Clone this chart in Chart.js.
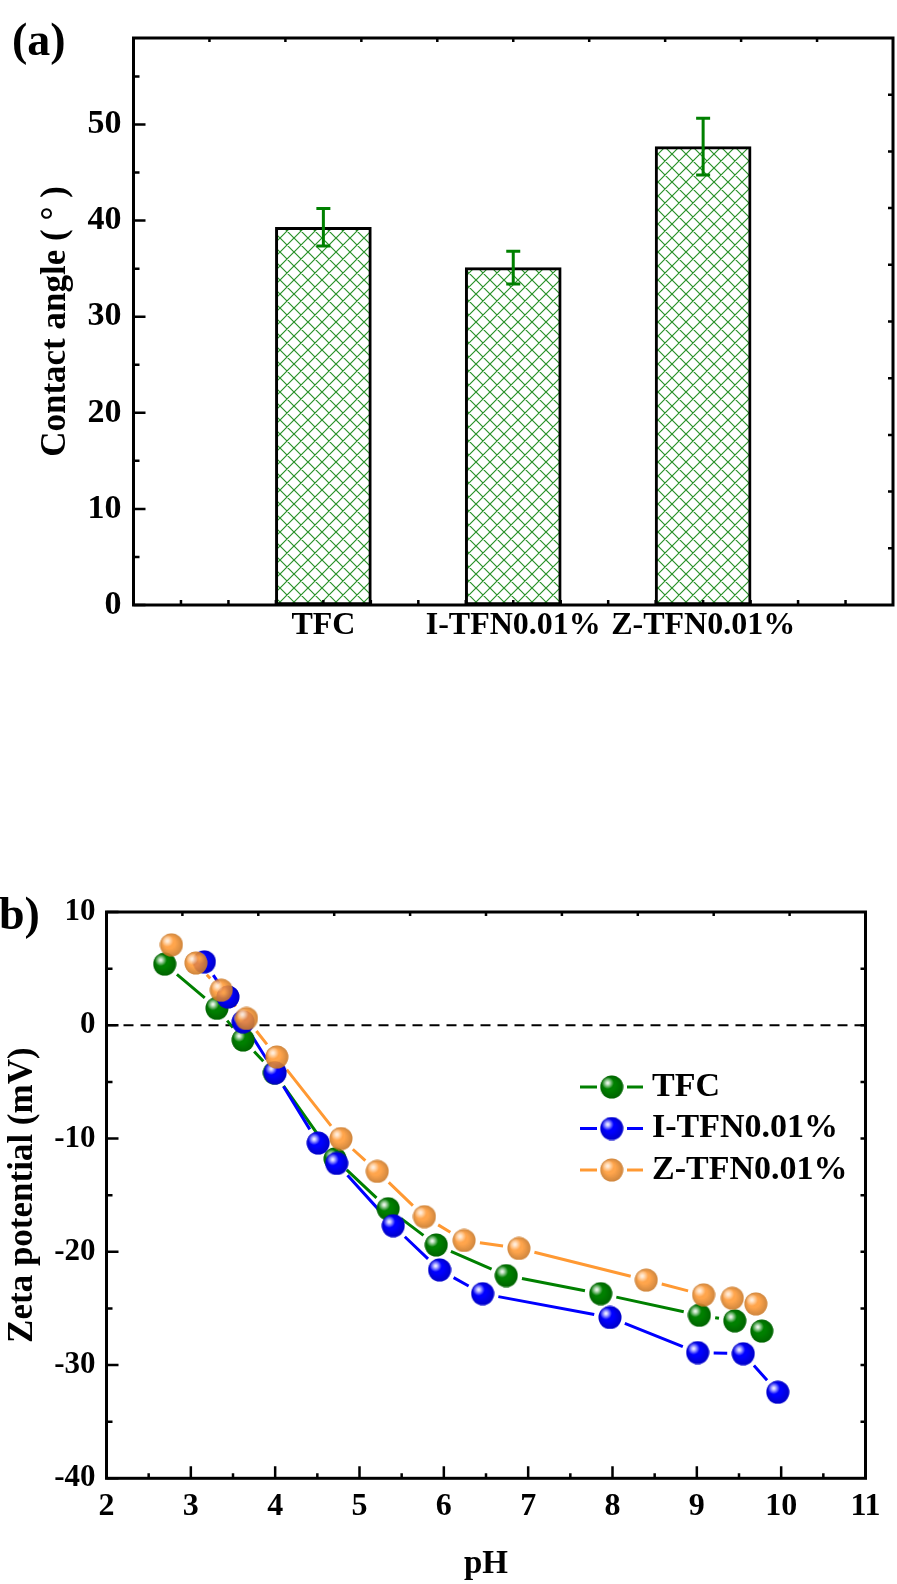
<!DOCTYPE html>
<html>
<head>
<meta charset="utf-8">
<title>Contact angle and zeta potential</title>
<script src="https://cdn.jsdelivr.net/npm/chart.js@4.4.1/dist/chart.umd.min.js"></script>
<style>
  html, body { margin: 0; padding: 0; background: #fff; }
  #page { position: relative; width: 897px; height: 1584px; overflow: hidden; background: #fff; }
  #angleChart { position: absolute; left: 0; top: 0; }
  #zetaChart { position: absolute; left: 0; top: 840px; }
</style>
</head>
<body>
<div id="page">
  <canvas id="angleChart" width="897" height="700"></canvas>
  <canvas id="zetaChart" width="897" height="744"></canvas>
</div>
<script>
// (a) contact angle of the membranes
const categories = ['TFC', 'I-TFN0.01%', 'Z-TFN0.01%'];
const barPositions = [1, 2, 3];
const contactAngle = [39.3, 35.1, 47.7];
const contactAngleErr = [1.95, 1.7, 2.95];
const angleTicks = [0, 10, 20, 30, 40, 50];

// (b) zeta potential against pH
const seriesNames = ['TFC', 'I-TFN0.01%', 'Z-TFN0.01%'];
const phTFC = [2.69, 3.31, 3.62, 3.99, 4.71, 5.34, 5.91, 6.74, 7.86, 9.03, 9.45, 9.77];
const zetaTFC = [5.4, 1.5, -1.3, -4.2, -11.8, -16.2, -19.4, -22.1, -23.7, -25.6, -26.1, -27.0];
const phITFN = [3.16, 3.44, 3.62, 4.00, 4.51, 4.73, 5.40, 5.95, 6.46, 7.97, 9.01, 9.55, 9.96];
const zetaITFN = [5.6, 2.5, 0.3, -4.2, -10.4, -12.2, -17.7, -21.6, -23.7, -25.8, -28.9, -29.0, -32.4];
const phZTFN = [2.77, 3.06, 3.36, 3.66, 4.02, 4.78, 5.21, 5.77, 6.24, 6.89, 8.40, 9.08, 9.42, 9.70];
const zetaZTFN = [7.1, 5.5, 3.1, 0.6, -2.8, -10.0, -12.9, -16.9, -19.0, -19.7, -22.5, -23.8, -24.1, -24.6];
const phTicks = [2, 3, 4, 5, 6, 7, 8, 9, 10, 11];
const zetaTicks = [-40, -30, -20, -10, 0, 10];

const SERIF = "'Liberation Serif', 'Times New Roman', serif";
Chart.defaults.font.family = SERIF;
Chart.defaults.font.weight = 'bold';
Chart.defaults.color = '#000';

const GREEN = 'rgb(0,128,0)';
const BLUE = 'rgb(0,0,255)';
const ORANGE = 'rgb(255,153,51)';

// green cross-hatch fill for the bars
function makeHatch(ctx) {
    const s = 14;
    const c = document.createElement('canvas');
    c.width = c.height = s;
    const g = c.getContext('2d');
    g.fillStyle = '#fff';
    g.fillRect(0, 0, s, s);
    g.strokeStyle = 'rgb(40,145,40)';
    g.lineWidth = 1.2;
    g.beginPath();
    for (const o of [-s, 0, s]) {
        g.moveTo(o, 0); g.lineTo(o + s, s);
        g.moveTo(o + s, 0); g.lineTo(o, s);
    }
    g.stroke();
    return ctx.createPattern(c, 'repeat');
}

// shaded ball used as the point marker
function makeBall(r, g, b, alpha) {
    const c = document.createElement('canvas');
    c.width = c.height = 24;
    const x = c.getContext('2d');
    const cx = 12, cy = 12, rad = 11.5;
    x.globalAlpha = alpha;
    x.beginPath();
    x.arc(cx, cy, rad, 0, Math.PI * 2);
    x.fillStyle = `rgb(${r},${g},${b})`;
    x.fill();
    const shade = x.createRadialGradient(cx - 2, cy - 2, rad * 0.5, cx, cy, rad);
    shade.addColorStop(0, 'rgba(0,0,0,0)');
    shade.addColorStop(1, 'rgba(0,0,0,0.22)');
    x.fillStyle = shade;
    x.fill();
    const hi = x.createRadialGradient(cx - 4, cy - 4, 0, cx - 4, cy - 4, 6);
    hi.addColorStop(0, 'rgba(255,255,255,1)');
    hi.addColorStop(0.3, 'rgba(255,255,255,0.75)');
    hi.addColorStop(1, 'rgba(255,255,255,0)');
    x.fillStyle = hi;
    x.fill();
    return c;
}

const balls = [makeBall(0, 128, 0, 1), makeBall(0, 0, 255, 1), makeBall(255, 153, 51, 0.88)];

// closed frame with inward ticks
function framePlugin(opt) {
    return {
        id: 'frame',
        afterDraw(chart) {
            const {ctx, chartArea: a, scales: {x, y}} = chart;
            ctx.save();
            ctx.strokeStyle = '#000';
            ctx.lineWidth = 2.5;
            ctx.beginPath();
            for (const v of opt.yMajor) {
                const py = y.getPixelForValue(v);
                ctx.moveTo(a.left, py); ctx.lineTo(a.left + 12, py);
            }
            for (const v of opt.yMinor) {
                const py = y.getPixelForValue(v);
                ctx.moveTo(a.left, py); ctx.lineTo(a.left + 6, py);
            }
            for (const v of opt.xMajor) {
                const px = x.getPixelForValue(v);
                ctx.moveTo(px, a.bottom); ctx.lineTo(px, a.bottom - 12);
            }
            for (const v of opt.xMinor) {
                const px = x.getPixelForValue(v);
                ctx.moveTo(px, a.bottom); ctx.lineTo(px, a.bottom - 5);
            }
            const w = a.right - a.left, h = a.bottom - a.top;
            for (let i = 1; i < opt.topDiv; i++) {
                const px = a.left + i * w / opt.topDiv;
                ctx.moveTo(px, a.top); ctx.lineTo(px, a.top + 4);
            }
            for (let i = 1; i < opt.rightDiv; i++) {
                const py = a.top + i * h / opt.rightDiv;
                ctx.moveTo(a.right, py); ctx.lineTo(a.right - 5, py);
            }
            ctx.stroke();
            ctx.lineWidth = 3;
            ctx.strokeRect(a.left, a.top, w, h);
            ctx.restore();
        }
    };
}

function panelLabel(text, x, y) {
    return {
        id: 'panelLabel',
        afterDraw(chart) {
            const ctx = chart.ctx;
            ctx.save();
            ctx.font = `bold 46px ${SERIF}`;
            ctx.fillStyle = '#000';
            ctx.textBaseline = 'alphabetic';
            ctx.fillText(text, x, y);
            ctx.restore();
        }
    };
}

function minorOf(majors, max) {
    const step = majors[1] - majors[0];
    return majors.map(v => v + step / 2).filter(v => v < max);
}

// error bars on the contact angle bars
const errorBars = {
    id: 'errorBars',
    afterDatasetsDraw(chart) {
        const {ctx, scales: {y}} = chart;
        const bars = chart.getDatasetMeta(0).data;
        ctx.save();
        ctx.strokeStyle = GREEN;
        ctx.lineWidth = 3;
        ctx.beginPath();
        bars.forEach((bar, i) => {
            const top = y.getPixelForValue(contactAngle[i] + contactAngleErr[i]);
            const bot = y.getPixelForValue(contactAngle[i] - contactAngleErr[i]);
            ctx.moveTo(bar.x, top); ctx.lineTo(bar.x, bot);
            ctx.moveTo(bar.x - 7, top); ctx.lineTo(bar.x + 7, top);
            ctx.moveTo(bar.x - 7, bot); ctx.lineTo(bar.x + 7, bot);
        });
        ctx.stroke();
        ctx.restore();
    }
};

const angleCanvas = document.getElementById('angleChart');

new Chart(angleCanvas, {
    type: 'bar',
    data: {
        datasets: [{
            data: barPositions.map((x, i) => ({x, y: contactAngle[i]})),
            backgroundColor: makeHatch(angleCanvas.getContext('2d')),
            borderColor: '#000',
            borderWidth: 3,
            borderSkipped: false,
            barThickness: 96
        }]
    },
    options: {
        responsive: false,
        animation: false,
        devicePixelRatio: 1,
        layout: {padding: {top: 38, right: 4, left: 0, bottom: 0}},
        plugins: {legend: {display: false}, tooltip: {enabled: false}},
        scales: {
            x: {
                type: 'linear', min: 0, max: 4, offset: false,
                grid: {display: false, drawTicks: false, offset: false},
                border: {display: false},
                afterBuildTicks: s => { s.ticks = barPositions.map(v => ({value: v})); },
                afterFit: s => { s.height = 95; },
                ticks: {
                    font: {size: 32, weight: 'bold'}, padding: 2, maxRotation: 0, autoSkip: false,
                    callback: v => categories[barPositions.indexOf(v)]
                }
            },
            y: {
                min: 0, max: 59,
                grid: {display: false, drawTicks: false},
                border: {display: false},
                afterBuildTicks: s => { s.ticks = angleTicks.map(v => ({value: v})); },
                afterFit: s => { s.width = 133.5; },
                ticks: {font: {size: 34, weight: 'bold'}, padding: 12},
                title: {
                    display: true, text: 'Contact angle ( ° )',
                    font: {size: 35, weight: 'bold'}, padding: {top: 35, bottom: 0}
                }
            }
        }
    },
    plugins: [
        errorBars,
        framePlugin({
            yMajor: angleTicks, yMinor: minorOf(angleTicks, 59),
            xMajor: [], xMinor: Array.from({length: 15}, (_, i) => (i + 1) * 0.25),
            topDiv: 10, rightDiv: 10
        }),
        panelLabel('(a)', 12, 55)
    ]
});

// lines between points, stopped short of each marker
const gapLines = {
    id: 'gapLines',
    beforeDatasetsDraw(chart) {
        const ctx = chart.ctx;
        const gap = 16;
        ctx.save();
        ctx.lineWidth = 3;
        chart.data.datasets.forEach((ds, di) => {
            const pts = chart.getDatasetMeta(di).data;
            ctx.strokeStyle = ds.borderColor;
            ctx.beginPath();
            for (let i = 1; i < pts.length; i++) {
                const p0 = pts[i - 1], p1 = pts[i];
                const dx = p1.x - p0.x, dy = p1.y - p0.y;
                const len = Math.hypot(dx, dy);
                if (len <= gap * 2) continue;
                const ux = dx / len, uy = dy / len;
                ctx.moveTo(p0.x + ux * gap, p0.y + uy * gap);
                ctx.lineTo(p1.x - ux * gap, p1.y - uy * gap);
            }
            ctx.stroke();
        });
        ctx.restore();
    }
};

// dashed reference line at zero potential
const zeroLine = {
    id: 'zeroLine',
    beforeDatasetsDraw(chart) {
        const {ctx, chartArea: a, scales: {y}} = chart;
        const py = y.getPixelForValue(0);
        ctx.save();
        ctx.strokeStyle = '#000';
        ctx.lineWidth = 2;
        ctx.setLineDash([10, 7]);
        ctx.beginPath();
        ctx.moveTo(a.left, py);
        ctx.lineTo(a.right, py);
        ctx.stroke();
        ctx.restore();
    }
};

// legend: line - ball - line, then the name
const ballLegend = {
    id: 'ballLegend',
    afterDraw(chart) {
        const ctx = chart.ctx;
        const lx = 580, ly = 247, row = 41.5;
        ctx.save();
        ctx.lineWidth = 3;
        ctx.font = `bold 34px ${SERIF}`;
        ctx.textBaseline = 'middle';
        ctx.fillStyle = '#000';
        chart.data.datasets.forEach((ds, i) => {
            const y = ly + i * row;
            ctx.strokeStyle = ds.borderColor;
            ctx.beginPath();
            ctx.moveTo(lx, y); ctx.lineTo(lx + 17, y);
            ctx.moveTo(lx + 47, y); ctx.lineTo(lx + 63, y);
            ctx.stroke();
            ctx.drawImage(balls[i], lx + 31.7 - 12, y - 12);
            ctx.fillText(ds.label, lx + 72, y);
        });
        ctx.restore();
    }
};

function series(i, ph, zeta, color, order) {
    return {
        label: seriesNames[i],
        data: ph.map((x, k) => ({x, y: zeta[k]})),
        borderColor: color,
        backgroundColor: color,
        pointStyle: balls[i],
        pointRadius: 11.5,
        showLine: false,
        order
    };
}

new Chart(document.getElementById('zetaChart'), {
    type: 'scatter',
    data: {
        datasets: [
            series(0, phTFC, zetaTFC, GREEN, 2),
            series(1, phITFN, zetaITFN, BLUE, 1),
            series(2, phZTFN, zetaZTFN, ORANGE, 0)
        ]
    },
    options: {
        responsive: false,
        animation: false,
        devicePixelRatio: 1,
        layout: {padding: {top: 72, right: 31.5, left: 0, bottom: 0}},
        plugins: {legend: {display: false}, tooltip: {enabled: false}},
        scales: {
            x: {
                type: 'linear', min: 2, max: 11,
                grid: {display: false, drawTicks: false},
                border: {display: false},
                afterBuildTicks: s => { s.ticks = phTicks.map(v => ({value: v})); },
                afterFit: s => { s.height = 105.7; },
                ticks: {font: {size: 32, weight: 'bold'}, padding: 9, maxRotation: 0, autoSkip: false},
                title: {display: true, text: 'pH', font: {size: 33, weight: 'bold'}, padding: {top: 0, bottom: 0}}
            },
            y: {
                min: -40, max: 10,
                grid: {display: false, drawTicks: false},
                border: {display: false},
                afterBuildTicks: s => { s.ticks = zetaTicks.map(v => ({value: v})); },
                afterFit: s => { s.width = 106.5; },
                ticks: {font: {size: 31, weight: 'bold'}, padding: 11},
                title: {
                    display: true, text: 'Zeta potential (mV)',
                    font: {size: 35, weight: 'bold'}, padding: {top: 2, bottom: 0}
                }
            }
        }
    },
    plugins: [
        zeroLine,
        gapLines,
        ballLegend,
        framePlugin({
            yMajor: zetaTicks, yMinor: minorOf(zetaTicks, 10),
            xMajor: phTicks, xMinor: minorOf(phTicks, 11),
            topDiv: 10, rightDiv: 10
        }),
        panelLabel('b)', -1, 89)
    ]
});
</script>
</body>
</html>
